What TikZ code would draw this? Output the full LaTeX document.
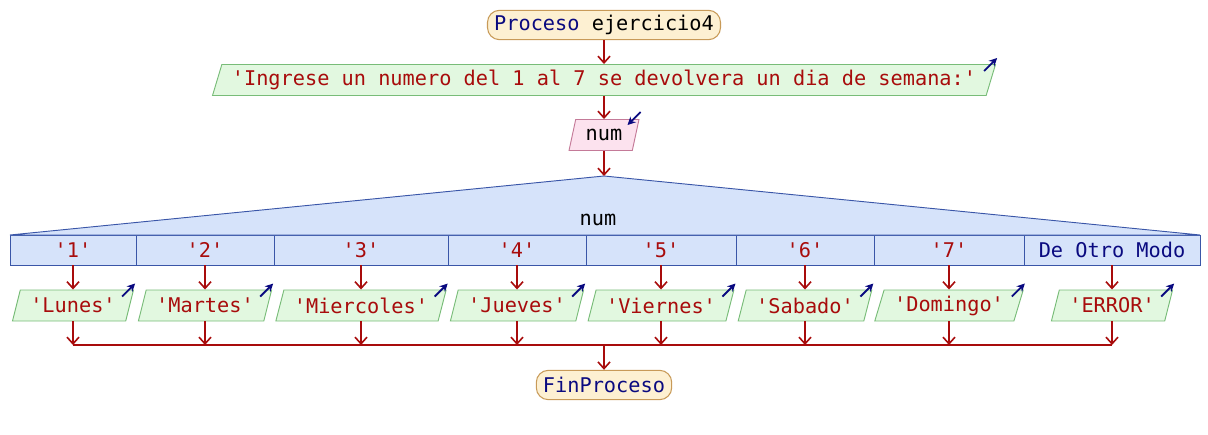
\documentclass[tikz,border=0pt]{standalone}
\usepackage{fontspec}
\setmainfont{DejaVu Sans Mono}[Ligatures=TeXOff]
\usetikzlibrary{shapes.geometric,arrows.meta}
\definecolor{termfill}{HTML}{FDF0D2}
\definecolor{termline}{HTML}{C89A58}
\definecolor{outfill}{HTML}{E2F8E0}
\definecolor{outline}{HTML}{78BC78}
\definecolor{infill}{HTML}{FCE2EE}
\definecolor{inline}{HTML}{C47A98}
\definecolor{swfill}{HTML}{D6E3FA}
\definecolor{swline}{HTML}{3A56A8}
\definecolor{flowred}{HTML}{A80C0C}
\definecolor{strred}{HTML}{A80C0C}
\definecolor{kwblue}{HTML}{0A0A80}
\begin{document}
\begin{tikzpicture}[x=0.75pt,y=-0.75pt,font=\fontsize{15.2}{18}\selectfont,
  term/.style={rectangle,rounded corners=9pt,draw=termline,fill=termfill,line width=0.8pt,minimum height=22pt,inner xsep=5pt},
  outp/.style={trapezium,trapezium left angle=72,trapezium right angle=108,trapezium stretches=true,draw=outline,fill=outfill,line width=0.7pt,minimum height=23.25pt,inner xsep=7.5pt,text=strred},
  inp/.style={outp,draw=inline,fill=infill,text=black},
  cell/.style={rectangle,draw=swline,fill=swfill,line width=0.7pt,minimum height=22.5pt,outer sep=0pt,text=strred},
  flow/.style={draw=flowred,line width=1.2pt,-{Straight Barb[length=5pt,width=9pt]}},
  icon/.style={draw=kwblue,line width=1.4pt,-{Stealth[length=6pt,width=6pt]}}]
\useasboundingbox (0,0) rectangle (1208,435);
\def\ry{250};
\def\oy{305.5};
\def\jy{345};

\node[term] (ini) at (604,25) {{\color{kwblue}Proceso} ejercicio4};
\node[outp] (msg) at (604,80) {'Ingrese un numero del 1 al 7 se devolvera un dia de semana:'};
\draw[flow] (ini.south) -- (ini.south |- msg.north);
\draw[icon] ([shift={(-12,7)}]msg.top right corner) -- ([shift={(1,-6)}]msg.top right corner);
\node[inp] (leer) at (604,135) {num};
\draw[flow] (ini.south |- msg.south) -- (ini.south |- leer.north);
\draw[icon] ([shift={(1,-7)}]leer.top right corner) -- ([shift={(-12,6)}]leer.top right corner);

\coordinate (apex) at (604,176);
\node[cell,minimum width=94.5pt] (c1) at (73,\ry) {'1'};
\node[cell,minimum width=103.5pt] (c2) at (205,\ry) {'2'};
\node[cell,minimum width=130.5pt] (c3) at (361,\ry) {'3'};
\node[cell,minimum width=103.5pt] (c4) at (517,\ry) {'4'};
\node[cell,minimum width=112.5pt] (c5) at (661,\ry) {'5'};
\node[cell,minimum width=103.5pt] (c6) at (805,\ry) {'6'};
\node[cell,minimum width=112.5pt] (c7) at (949,\ry) {'7'};
\node[cell,minimum width=132pt,text=kwblue] (c8) at (1112,\ry) {De Otro Modo};
\draw[draw=swline,fill=swfill,line width=0.7pt] (c1.north west) -- (apex) -- (c8.north east) -- cycle;
\node (var) at (598,220) {num};
\draw[flow] (apex |- leer.south) -- (apex);

\node[outp] (o1) at (73,\oy) {'Lunes'};
\node[outp] (o2) at (205,\oy) {'Martes'};
\node[outp] (o3) at (361,\oy) {'Miercoles'};
\node[outp] (o4) at (517,\oy) {'Jueves'};
\node[outp] (o5) at (661,\oy) {'Viernes'};
\node[outp] (o6) at (805,\oy) {'Sabado'};
\node[outp] (o7) at (949,\oy) {'Domingo'};
\node[outp] (o8) at (1112,\oy) {'ERROR'};
\foreach \i in {1,...,8} {
  \draw[flow] (c\i.south) -- (c\i.south |- o\i.north);
  \draw[icon] ([shift={(-12,7)}]o\i.top right corner) -- ([shift={(1,-6)}]o\i.top right corner);
  \coordinate (j\i) at (o\i.center |- 0,\jy);
  \draw[flow] (o\i.center |- o\i.south) -- (j\i);
}
\draw[draw=flowred,line width=1.2pt] (j1) -- (j8);

\coordinate (jm) at (604,\jy);
\node[term] (fin) at (604,385) {\color{kwblue}FinProceso};
\draw[flow] (jm) -- (fin.north);
\end{tikzpicture}
\end{document}
